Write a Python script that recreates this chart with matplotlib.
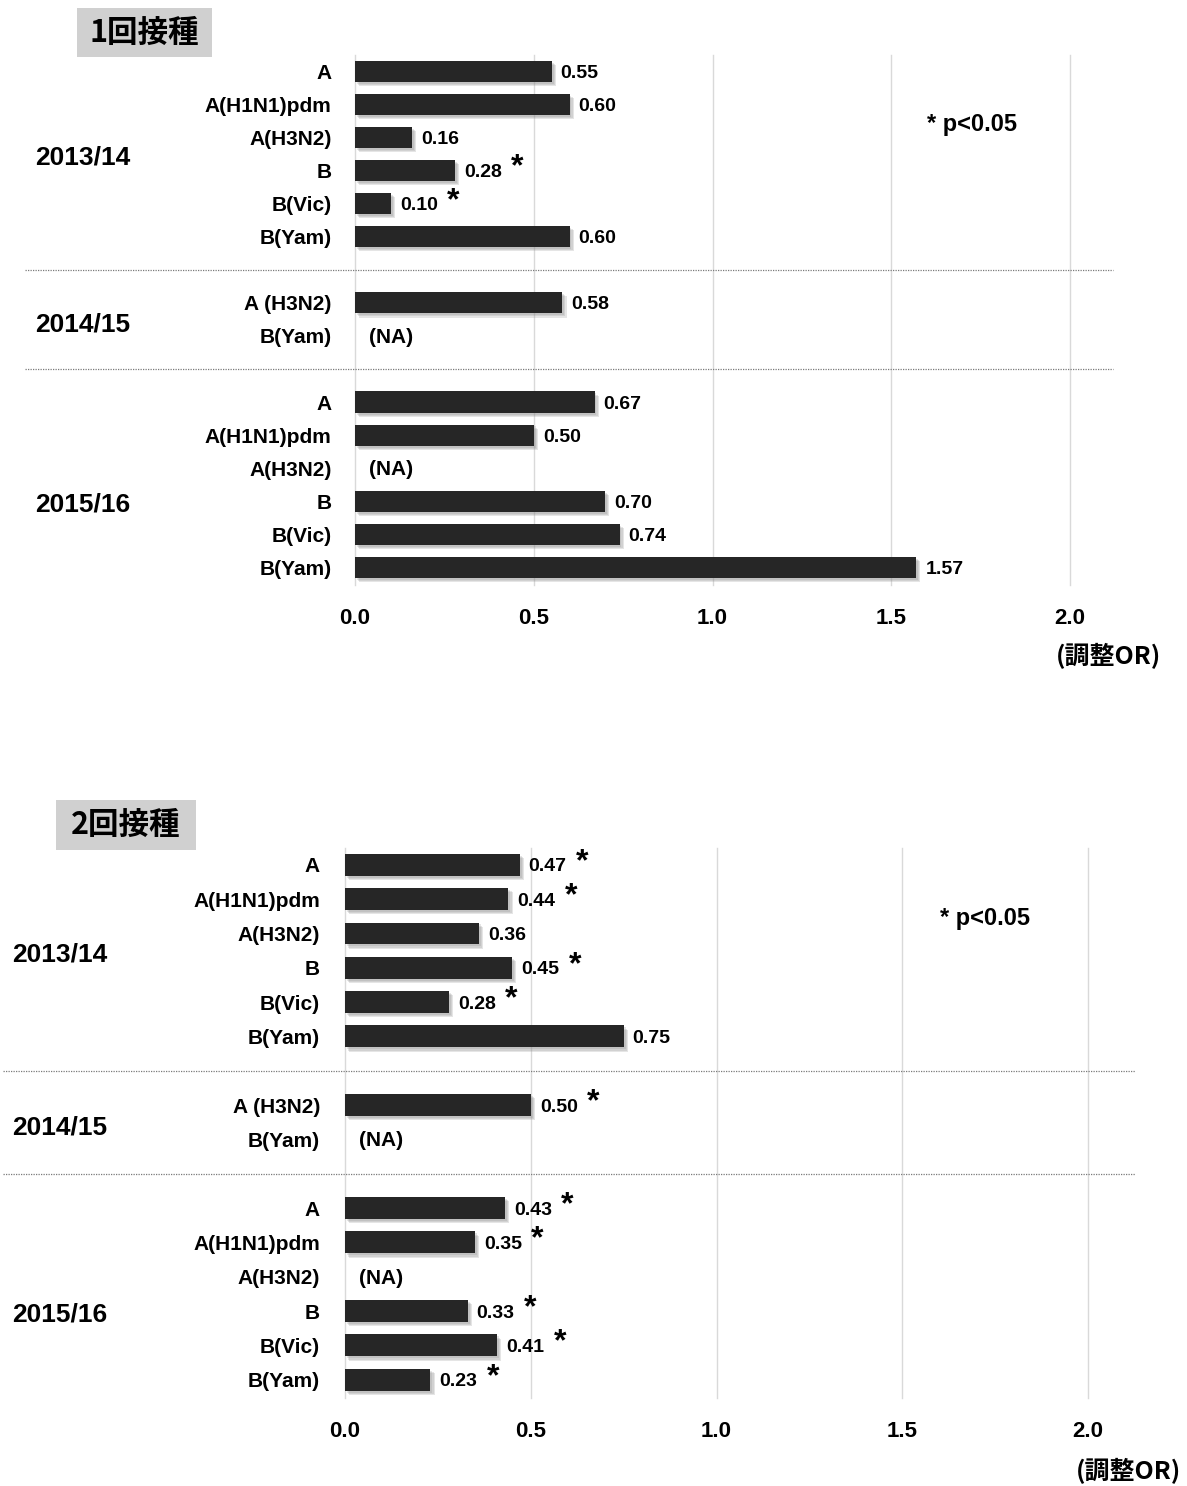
import matplotlib.pyplot as plt
import matplotlib.patheffects as pe
import matplotlib.transforms as mtransforms
from matplotlib.patches import Rectangle

LATIN = ['Liberation Sans', 'DejaVu Sans']
JP = ['Noto Sans CJK JP', 'DejaVu Sans']

# シーズンと型
seasons = ['2013/14', '2014/15', '2015/16']
types_1314 = ['A', 'A(H1N1)pdm', 'A(H3N2)', 'B', 'B(Vic)', 'B(Yam)']
types_1415 = ['A (H3N2)', 'B(Yam)']
types_1516 = ['A', 'A(H1N1)pdm', 'A(H3N2)', 'B', 'B(Vic)', 'B(Yam)']
ticks = [0.0, 0.5, 1.0, 1.5, 2.0]

# 1回接種の調整OR (None = NA)
once_1314 = [0.55, 0.60, 0.16, 0.28, 0.10, 0.60]
once_1314_sig = [False, False, False, True, True, False]
once_1415 = [0.58, None]
once_1415_sig = [False, False]
once_1516 = [0.67, 0.50, None, 0.70, 0.74, 1.57]
once_1516_sig = [False, False, False, False, False, False]

# 2回接種の調整OR
twice_1314 = [0.47, 0.44, 0.36, 0.45, 0.28, 0.75]
twice_1314_sig = [True, True, False, True, True, False]
twice_1415 = [0.50, None]
twice_1415_sig = [True, False]
twice_1516 = [0.43, 0.35, None, 0.33, 0.41, 0.23]
twice_1516_sig = [True, True, False, True, True, True]

W, H = 1187, 1486
fig = plt.figure(figsize=(W / 100, H / 100), dpi=100)


def px_rect(left, top, right, bottom):
    return [left / W, 1 - bottom / H, (right - left) / W, (bottom - top) / H]


def draw_panel(ax, vals, sigs, sep_x, season_x, label_pad):
    cat_lists = [types_1314, types_1415, types_1516]
    labels, values, marks, starts, blanks = [], [], [], [], []
    for k, (cats, v, s) in enumerate(zip(cat_lists, vals, sigs)):
        if k:
            blanks.append(len(labels))
            labels.append('')
            values.append(None)
            marks.append(False)
        starts.append(len(labels))
        labels += cats
        values += v
        marks += s

    # ぼかし風の影
    shadow = [pe.SimplePatchShadow(offset=(d, -d), shadow_rgbFace='#8c8c8c', alpha=0.22)
              for d in (3.0, 2.2, 1.4)] + [pe.Normal()]
    for row, (v, m) in enumerate(zip(values, marks)):
        if labels[row] == '':
            continue
        if v is None:
            ax.annotate('(NA)', (0, row), xytext=(10, -1), textcoords='offset points',
                        ha='left', va='center', fontsize=15, fontweight='bold', family=LATIN)
            continue
        ax.barh(row, v, height=0.64, color='#262626', path_effects=shadow, zorder=3)
        ax.annotate(f'{v:.2f}', (v, row), xytext=(6.5, -1.5), textcoords='offset points',
                    ha='left', va='center', fontsize=14, fontweight='bold', family=LATIN)
        if m:
            ax.annotate('*', (v, row), xytext=(45, 2), textcoords='offset points',
                        ha='center', va='center', fontsize=23, fontweight='bold', family=LATIN)

    rows = [i for i, l in enumerate(labels) if l]
    ax.set_yticks(rows)
    ax.set_yticklabels([labels[i] for i in rows], fontsize=15, fontweight='bold', family=LATIN)
    ax.set_xticks(ticks)
    ax.set_xticklabels([f'{t:.1f}' for t in ticks], fontsize=16, fontweight='bold', family=LATIN)
    ax.tick_params(axis='y', length=0, pad=label_pad)
    ax.tick_params(axis='x', length=0, pad=16.5)
    ax.set_xlim(0, 2.0)
    ax.set_ylim(15.53, -0.49)
    ax.grid(axis='x', color='#d9d9d9', linewidth=1)
    for gl in ax.get_xgridlines():
        gl.set_clip_on(False)
    ax.set_axisbelow(True)
    for sp in ax.spines.values():
        sp.set_visible(False)

    # シーズン区切りの点線
    tr = mtransforms.blended_transform_factory(fig.transFigure, ax.transData)
    for b in blanks:
        ax.plot([sep_x[0] / W, sep_x[1] / W], [b, b], transform=tr, clip_on=False,
                linestyle=(0, (1, 1)), color='#7a7a7a', linewidth=0.9)

    # シーズン名
    sizes = [len(types_1314), len(types_1415), len(types_1516)]
    shift = [0.1, 0.15, 0.6]
    for name, st, n, d in zip(seasons, starts, sizes, shift):
        ax.text(season_x / W, st + (n - 1) / 2 + d, name, transform=tr, ha='left', va='center',
                fontsize=19, fontweight='bold', family=LATIN)


def title_box(text, left, top, right, bottom):
    fig.patches.append(Rectangle((left / W, 1 - bottom / H), (right - left) / W, (bottom - top) / H,
                                 transform=fig.transFigure, facecolor='#d0d0d0', edgecolor='none'))
    fig.text((left + right) / 2 / W, 1 - (top + bottom) / 2 / H, text, ha='center', va='center',
             fontsize=22, fontweight='bold', family=JP)


# 1回接種
ax1 = fig.add_axes(px_rect(355, 55, 1070, 585))
draw_panel(ax1, [once_1314, once_1415, once_1516], [once_1314_sig, once_1415_sig, once_1516_sig],
           (25, 1113), 35, 17)
title_box('1回接種', 77, 8, 212, 57)
fig.text(927 / W, 1 - 124 / H, '* p<0.05', ha='left', va='center', fontsize=17,
         fontweight='bold', family=LATIN)
fig.text(1108 / W, 1 - 656 / H, '(調整OR)', ha='center', va='center', fontsize=18,
         fontweight='bold', family=JP)

# 2回接種
ax2 = fig.add_axes(px_rect(345, 848, 1088, 1398))
draw_panel(ax2, [twice_1314, twice_1415, twice_1516], [twice_1314_sig, twice_1415_sig, twice_1516_sig],
           (3, 1135), 12, 18)
title_box('2回接種', 56, 800, 196, 850)
fig.text(940 / W, 1 - 919 / H, '* p<0.05', ha='left', va='center', fontsize=17,
         fontweight='bold', family=LATIN)
fig.text(1128 / W, 1 - 1471 / H, '(調整OR)', ha='center', va='center', fontsize=18,
         fontweight='bold', family=JP)

fig.savefig('out.png', dpi=100, facecolor='white')
